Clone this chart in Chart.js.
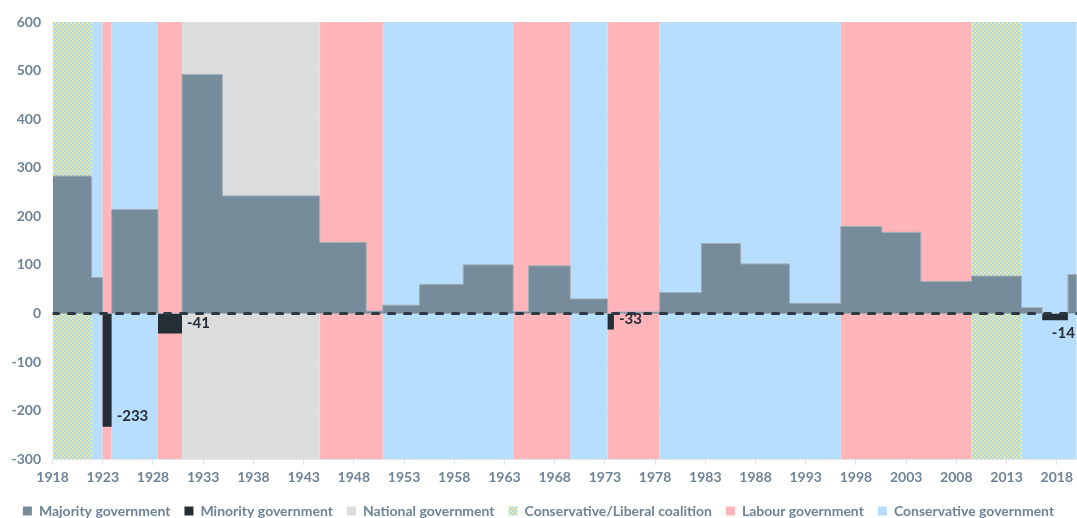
<!DOCTYPE html>
<html><head><meta charset="utf-8">
<script src="https://cdn.jsdelivr.net/npm/chart.js@4.4.1/dist/chart.umd.min.js"></script>
<style>html,body{margin:0;padding:0;background:#fff}</style>
</head><body>
<canvas id="c" width="1077" height="518"></canvas>
<script>
// ---- data (decimal years on the chart's own axis) ----
const termStarts = [1918, 1921.89, 1922.98, 1923.88, 1928.50, 1930.89, 1934.91, 1944.60, 1949.23, 1950.88, 1954.54, 1958.89, 1963.87, 1965.40, 1969.55, 1973.27, 1973.90, 1978.45, 1982.61, 1986.52, 1991.38, 1996.49, 2000.58, 2004.46, 2009.51, 2014.49, 2016.55, 2019.11];
const majorities = [283, 74, 0, 214, 0, 492, 242, 146, 5, 17, 60, 100, 4, 98, 30, 0, 3, 43, 144, 102, 21, 179, 167, 66, 77, 12, 0, 80];
const minorities = [0, 0, -233, 0, -41, 0, 0, 0, 0, 0, 0, 0, 0, 0, 0, -33, 0, 0, 0, 0, 0, 0, 0, 0, 0, 0, -14, 0];
const periodStarts = [1918, 1921.89, 1922.98, 1923.88, 1928.50, 1930.89, 1944.60, 1950.88, 1963.87, 1969.55, 1973.27, 1978.45, 1996.49, 2009.51, 2014.49];
const periodGovs = ['coalition', 'con', 'lab', 'con', 'lab', 'national', 'lab', 'con', 'lab', 'con', 'lab', 'con', 'lab', 'coalition', 'con'];
const axisStart = 1918;
const axisEnd = 2020;
const tickYears = [1918, 1923, 1928, 1933, 1938, 1943, 1948, 1953, 1958, 1963, 1968, 1973, 1978, 1983, 1988, 1993, 1998, 2003, 2008, 2013, 2018];
const yMin = -300, yMax = 600, yStep = 100;

// ---- styling ----
const FONT = "Lato, 'Open Sans', sans-serif";
const TEXT = '#6e8397';
Chart.defaults.font.family = FONT;

function checker() {
  const c = document.createElement('canvas');
  c.width = 4; c.height = 4;
  const g = c.getContext('2d');
  g.fillStyle = '#a2dcf3'; g.fillRect(0, 0, 4, 4);
  g.fillStyle = '#f4e39b'; g.fillRect(0, 0, 2, 2); g.fillRect(2, 2, 2, 2);
  return g.createPattern(c, 'repeat');
}

function stepSeries(starts, values) {
  const pts = starts.map((s, i) => ({ x: s, y: values[i] }));
  pts.push({ x: axisEnd, y: values[values.length - 1] });
  return pts;
}
function bandSeries(gov) {
  return stepSeries(periodStarts, periodGovs.map(g => g === gov ? yMax : yMin));
}

const common = { stepped: true, pointRadius: 0, pointHoverRadius: 0, tension: 0 };

const datasets = [
  { ...common, label: '', data: [{ x: axisStart, y: 0 }, { x: axisEnd, y: 0 }], borderColor: '#2c3842', borderWidth: 3, borderDash: [6, 10], borderCapStyle: 'round', fill: false, stepped: false },
  { ...common, label: 'Majority government', data: stepSeries(termStarts, majorities), backgroundColor: '#778c9b', borderColor: '#a2aeb8', borderWidth: 1, fill: 'origin' },
  { ...common, label: 'Minority government', data: stepSeries(termStarts, minorities), backgroundColor: '#252e36', borderColor: '#252e36', borderWidth: 0, fill: 'origin' },
  { ...common, label: 'National government', data: bandSeries('national'), backgroundColor: '#dcdddf', borderWidth: 0, fill: 'start' },
  { ...common, label: 'Conservative/Liberal coalition', data: bandSeries('coalition'), backgroundColor: checker(), borderWidth: 0, fill: 'start' },
  { ...common, label: 'Labour government', data: bandSeries('lab'), backgroundColor: '#ffb5ba', borderWidth: 0, fill: 'start' },
  { ...common, label: 'Conservative government', data: bandSeries('con'), backgroundColor: '#b7dffd', borderWidth: 0, fill: 'start' }
];

const minorityLabels = {
  id: 'minorityLabels',
  afterDatasetsDraw(chart) {
    const { ctx, chartArea, scales: { x, y } } = chart;
    ctx.save();
    ctx.font = `bold 15px ${FONT}`;
    ctx.fillStyle = '#252e36';
    ctx.textBaseline = 'middle';
    minorities.forEach((v, i) => {
      if (!v) return;
      const end = i + 1 < termStarts.length ? termStarts[i + 1] : axisEnd;
      const xr = x.getPixelForValue(end);
      const yb = y.getPixelForValue(v);
      const txt = String(v);
      const w = ctx.measureText(txt).width;
      if (xr + 5 + w > chartArea.right) {
        ctx.textAlign = 'right';
        ctx.fillText(txt, chartArea.right - 2, yb + 13);
      } else {
        ctx.textAlign = 'left';
        ctx.fillText(txt, xr + 5, yb - 10);
      }
    });
    ctx.restore();
  }
};

new Chart(document.getElementById('c'), {
  type: 'line',
  data: { datasets },
  options: {
    responsive: false,
    animation: false,
    layout: { padding: { top: 22, left: 0, right: 0, bottom: -10 } },
    plugins: {
      tooltip: { enabled: false },
      legend: {
        position: 'bottom',
        labels: {
          boxWidth: 9, boxHeight: 9, padding: 14, color: TEXT,
          font: { size: 14, weight: 'bold', family: FONT },
          generateLabels: chart => chart.data.datasets.map((d, i) => ({
            text: d.label, fillStyle: d.backgroundColor, strokeStyle: d.backgroundColor,
            lineWidth: 0, hidden: false, datasetIndex: i, fontColor: TEXT
          })).filter(l => l.text)
        }
      }
    },
    scales: {
      x: {
        type: 'linear', min: axisStart, max: axisEnd,
        afterBuildTicks: s => { s.ticks = tickYears.map(v => ({ value: v })); },
        ticks: { autoSkip: false, maxRotation: 0, color: TEXT, padding: 4, font: { size: 14, weight: 'bold' }, callback: v => String(v) },
        grid: { drawOnChartArea: false, drawTicks: true, tickLength: 6, color: '#dfe3e6' },
        border: { display: true, color: '#e3e6e8' }
      },
      y: {
        min: yMin, max: yMax,
        ticks: { stepSize: yStep, color: TEXT, padding: 11.5, font: { size: 14, weight: 'bold' } },
        grid: { drawTicks: false, color: '#e4e6e8' },
        border: { display: false }
      }
    }
  },
  plugins: [minorityLabels]
});
</script>
</body></html>
